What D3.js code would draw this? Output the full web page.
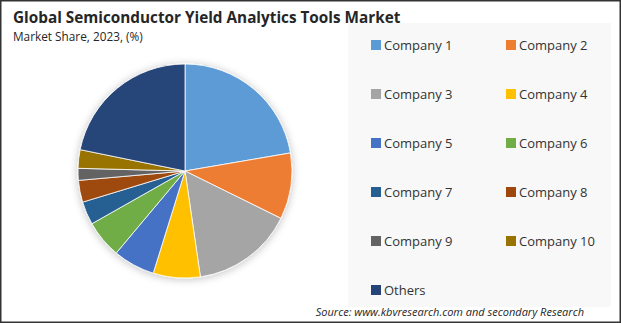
<!DOCTYPE html>
<html>
<head>
<meta charset="utf-8">
<script src="https://cdn.jsdelivr.net/npm/d3@7"></script>
<style>
  body { margin: 0; background: #fff; }
  svg { display: block; font-family: "Open Sans", "Noto Sans", sans-serif; }
</style>
</head>
<body>
<svg width="621" height="323"></svg>
<script>
// dati (quote %, 2023)
var companies = ['Company 1', 'Company 2', 'Company 3', 'Company 4', 'Company 5', 'Company 6',
                 'Company 7', 'Company 8', 'Company 9', 'Company 10', 'Others']
var shares = [22.3, 10.0, 15.4, 7.1, 6.3, 5.7, 3.5, 3.3, 1.8, 2.8, 21.8]
var colors = ['#5b9bd5', '#ed7d31', '#a5a5a5', '#ffc000', '#4472c4', '#70ad47',
              '#255e91', '#9e480e', '#636363', '#997300', '#264478']

var svg = d3.select('svg')

// cornice esterna
svg.append('rect')
  .attr('x', 0.75).attr('y', 0.75)
  .attr('width', 619.5).attr('height', 321.5)
  .attr('fill', '#fff')
  .attr('stroke', '#333').attr('stroke-width', 1.5)

// pannello legenda
svg.append('rect')
  .attr('x', 348).attr('y', 23)
  .attr('width', 263).attr('height', 284)
  .attr('fill', '#f8f8f8')

// titolo
svg.append('text')
  .attr('x', 13).attr('y', 23)
  .attr('font-size', 15.3).attr('font-weight', 'bold')
  .attr('fill', '#262626')
  .text('Global Semiconductor Yield Analytics Tools Market')

svg.append('text')
  .attr('x', 13).attr('y', 41)
  .attr('font-size', 11.8)
  .attr('fill', '#262626')
  .text('Market Share, 2023, (%)')

// ombra sotto la torta
var defs = svg.append('defs')
var f = defs.append('filter').attr('id', 'ombra')
  .attr('x', '-20%').attr('y', '-20%').attr('width', '140%').attr('height', '140%')
f.append('feGaussianBlur').attr('in', 'SourceAlpha').attr('stdDeviation', 4)
f.append('feOffset').attr('dx', 0).attr('dy', 1).attr('result', 'b')
f.append('feComponentTransfer').append('feFuncA').attr('type', 'linear').attr('slope', 0.25)
var m = f.append('feMerge')
m.append('feMergeNode')
m.append('feMergeNode').attr('in', 'SourceGraphic')

var cx = 185, cy = 171, r = 107

var pie = d3.pie().sort(null).value(function(d){ return d })
var arc = d3.arc().innerRadius(0).outerRadius(r)

var torta = svg.append('g')
  .attr('transform', 'translate(' + cx + ',' + cy + ')')
  .attr('filter', 'url(#ombra)')

torta.selectAll('path')
  .data(pie(shares))
  .enter()
  .append('path')
  .attr('d', arc)
  .attr('fill', function(d, i){ return colors[i] })
  .attr('stroke', '#fff')
  .attr('stroke-width', 0.8)

// legenda a due colonne
var colX = d3.scaleOrdinal().domain([0, 1]).range([371, 506])
var rowY = d3.scaleLinear().domain([0, 5]).range([45, 290])

var voci = svg.selectAll('.voce')
  .data(companies)
  .enter()
  .append('g')
  .attr('class', 'voce')
  .attr('transform', function(d, i){
    return 'translate(' + colX(i % 2) + ',' + rowY(Math.floor(i / 2)) + ')'
  })

voci.append('rect')
  .attr('x', 0).attr('y', -5)
  .attr('width', 10).attr('height', 10)
  .attr('fill', function(d, i){ return colors[i] })

voci.append('text')
  .attr('x', 13).attr('y', 0)
  .attr('dy', '0.35em')
  .attr('font-size', 13)
  .attr('fill', '#333')
  .text(function(d){ return d })

// fonte
svg.append('text')
  .attr('x', 584).attr('y', 316)
  .attr('text-anchor', 'end')
  .attr('font-size', 11)
  .attr('font-style', 'italic')
  .attr('fill', '#262626')
  .text('Source: www.kbvresearch.com and secondary Research')
</script>
</body>
</html>
